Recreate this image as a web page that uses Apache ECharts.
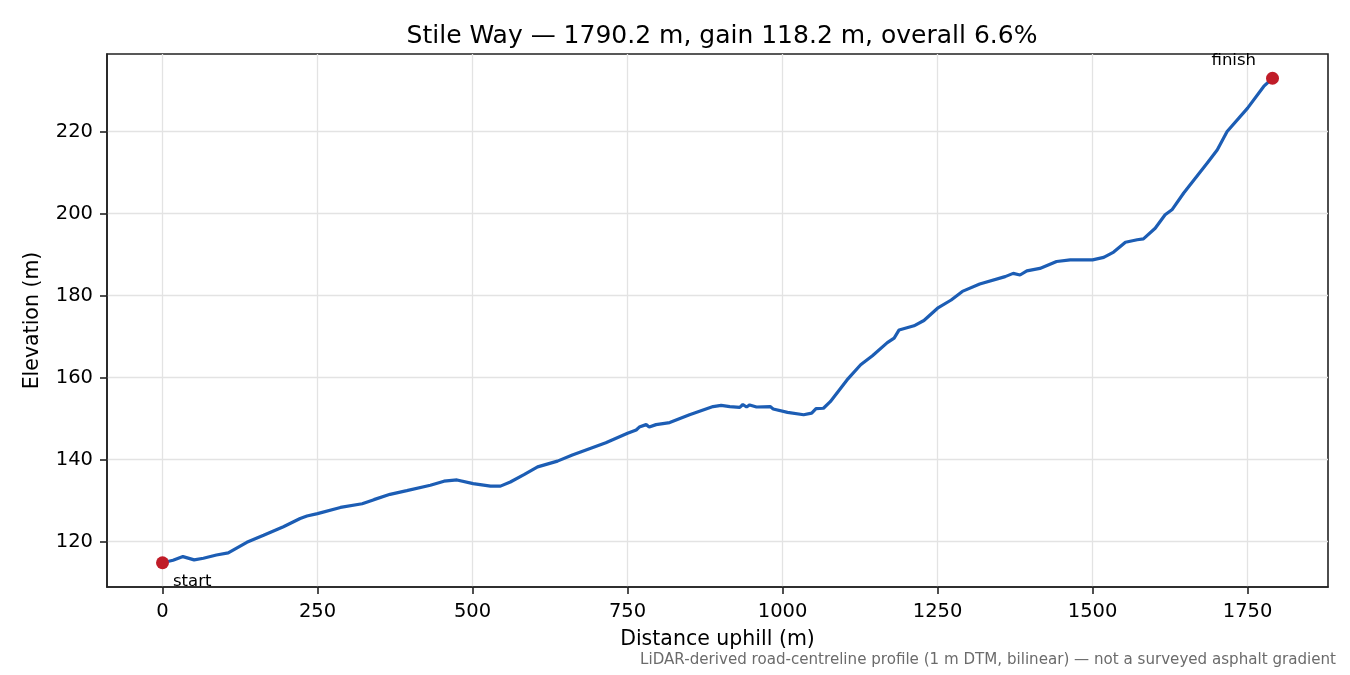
<!DOCTYPE html>
<html>
<head>
<meta charset="utf-8">
<script src="https://cdn.jsdelivr.net/npm/echarts@6/dist/echarts.min.js"></script>
<style>
  html, body { margin: 0; padding: 0; background: #fff; }
  #chart { width: 1350px; height: 675px; }
</style>
</head>
<body>
<div id="chart"></div>
<script>
// profile samples: distance along road (m) / elevation (m)
const distances = [
  0, 17, 33, 51, 66, 87, 106, 136, 163, 195, 222, 233, 250, 287, 322, 341, 367,
  394, 432, 454, 475, 501, 529, 545, 561, 583, 605, 637, 661, 715, 750, 764, 769,
  780, 785, 796, 818, 850, 888, 901, 915, 931, 936, 942, 947, 958, 980, 985, 1008,
  1034, 1047, 1054, 1066, 1077, 1104, 1126, 1145, 1169, 1180, 1188, 1212, 1228,
  1250, 1272, 1290, 1318, 1359, 1372, 1383, 1394, 1415, 1442, 1464, 1500, 1518,
  1534, 1553, 1572, 1582, 1601, 1617, 1628, 1647, 1685, 1701, 1717, 1750, 1776, 1790.2
];
const elevations = [
  114.8, 115.4, 116.3, 115.5, 115.9, 116.7, 117.2, 119.8, 121.5, 123.6, 125.6, 126.2,
  126.8, 128.3, 129.2, 130.2, 131.5, 132.4, 133.7, 134.7, 135.0, 134.1, 133.5, 133.5,
  134.5, 136.3, 138.2, 139.6, 141.1, 144.1, 146.4, 147.2, 147.9, 148.5, 147.9, 148.5,
  149.0, 150.9, 152.9, 153.2, 152.9, 152.7, 153.4, 152.8, 153.3, 152.8, 152.9, 152.3,
  151.5, 150.9, 151.3, 152.4, 152.5, 154.1, 159.4, 163.1, 165.3, 168.5, 169.6, 171.6,
  172.6, 173.9, 176.9, 178.9, 181.0, 182.8, 184.6, 185.4, 185.0, 186.0, 186.6, 188.3,
  188.7, 188.7, 189.3, 190.6, 193.0, 193.6, 193.8, 196.4, 199.7, 200.9, 205.0, 212.3,
  215.5, 220.0, 225.7, 231.0, 233.0
];
const endpointNames = ['start', 'finish'];
const xTicks = [0, 250, 500, 750, 1000, 1250, 1500, 1750];
const yTicks = [120, 140, 160, 180, 200, 220];

const titleText = 'Stile Way \u2014 1790.2 m, gain 118.2 m, overall 6.6%';
const noteText = 'LiDAR-derived road-centreline profile (1 m DTM, bilinear) \u2014 not a surveyed asphalt gradient';

const FONT = '"DejaVu Sans", sans-serif';
const profile = distances.map((d, i) => [d, elevations[i]]);
const last = distances.length - 1;

// matplotlib-style 5% margins around the data
const xPad = (distances[last] - distances[0]) * 0.05;
const ePad = (Math.max(...elevations) - Math.min(...elevations)) * 0.05;

const chart = echarts.init(document.getElementById('chart'), null, { renderer: 'canvas' });

chart.setOption({
  animation: false,
  backgroundColor: '#fff',
  textStyle: { fontFamily: FONT },
  title: {
    text: titleText,
    left: 717,
    textAlign: 'center',
    top: 19,
    textStyle: { fontFamily: FONT, fontSize: 25, fontWeight: 'normal', color: '#000' }
  },
  graphic: [{
    type: 'text',
    right: 14,
    bottom: 7,
    style: { text: noteText, fontFamily: FONT, fontSize: 15.1, fill: '#6b6b6b' }
  }],
  grid: {
    left: 107, right: 22, top: 54, bottom: 88,
    show: true, borderColor: '#222', borderWidth: 1.6,
    containLabel: false
  },
  xAxis: {
    type: 'value',
    min: distances[0] - xPad,
    max: distances[last] + xPad,
    name: 'Distance uphill (m)',
    nameLocation: 'middle',
    nameGap: 42,
    nameTextStyle: { fontFamily: FONT, fontSize: 20.5, color: '#000' },
    axisLine: { show: true, onZero: false, lineStyle: { color: '#222', width: 1.6 } },
    axisTick: { show: true, length: 7, customValues: xTicks, lineStyle: { color: '#222', width: 1.6 } },
    axisLabel: {
      customValues: xTicks, margin: 15, fontFamily: FONT, fontSize: 19.5, color: '#000',
      formatter: v => String(v)
    },
    splitLine: { show: true, lineStyle: { color: '#e3e3e3', width: 1.3 } }
  },
  yAxis: {
    type: 'value',
    min: Math.min(...elevations) - ePad,
    max: Math.max(...elevations) + ePad,
    name: 'Elevation (m)',
    nameLocation: 'middle',
    nameGap: 64,
    nameTextStyle: { fontFamily: FONT, fontSize: 20.5, color: '#000' },
    axisLine: { show: true, onZero: false, lineStyle: { color: '#222', width: 1.6 } },
    axisTick: { show: true, length: 7, customValues: yTicks, lineStyle: { color: '#222', width: 1.6 } },
    axisLabel: {
      customValues: yTicks, margin: 14, fontFamily: FONT, fontSize: 19.5, color: '#000',
      formatter: v => String(v)
    },
    splitLine: { show: true, lineStyle: { color: '#e3e3e3', width: 1.3 } }
  },
  series: [
    {
      type: 'line',
      data: profile,
      showSymbol: false,
      smooth: false,
      lineStyle: { color: '#1c5db4', width: 3.2 },
      z: 2
    },
    {
      type: 'scatter',
      symbolSize: 13,
      itemStyle: { color: '#c01c28', opacity: 1 },
      z: 3,
      data: [
        {
          value: profile[0],
          label: {
            show: true, formatter: endpointNames[0], position: 'right',
            offset: [-1, 19], fontFamily: FONT, fontSize: 16.5, color: '#000'
          }
        },
        {
          value: profile[last],
          label: {
            show: true, formatter: endpointNames[1], position: 'left',
            offset: [-5, -18], fontFamily: FONT, fontSize: 16.5, color: '#000'
          }
        }
      ]
    }
  ]
});
</script>
</body>
</html>
